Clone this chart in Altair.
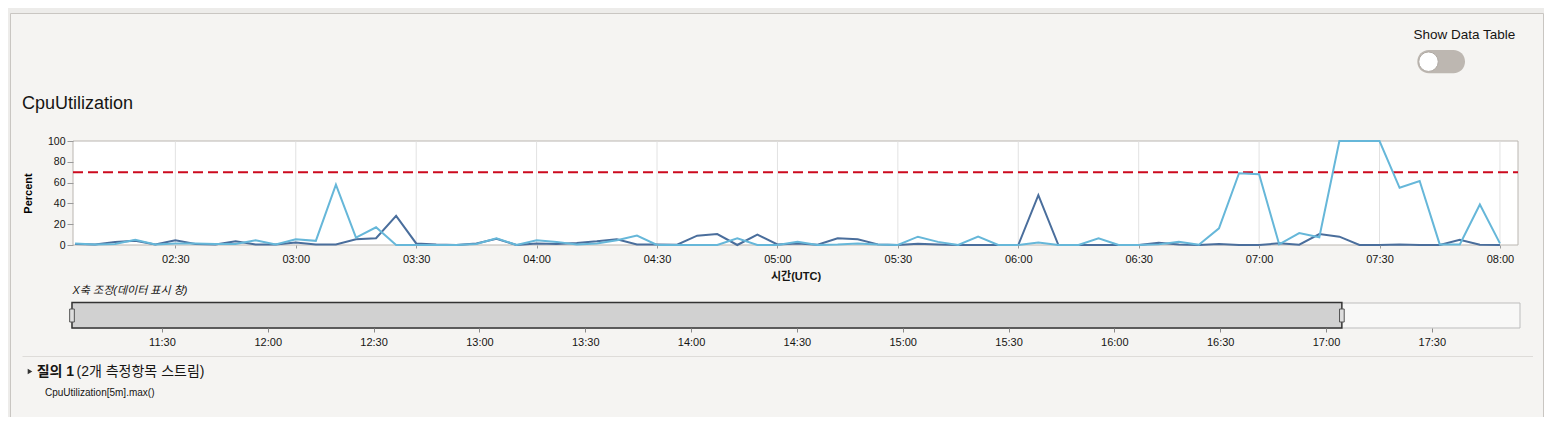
import altair as alt
import pandas as pd

W, H = 1536, 409
FONT = "Liberation Sans, Noto Sans CJK KR, sans-serif"
TXT = "#161513"
DARK = "#4a6e9c"
LIGHT = "#66b7d9"

# ---------------- data ----------------
times = pd.date_range("2024-01-01 02:05", periods=72, freq="5min")
dark_vals = [1, 0.5, 3, 4, 0.5, 4.5, 1, 0.5, 3.5, 0.5,
             0.5, 2.5, 0.5, 0.5, 5.5, 6.5, 28, 1.5, 0.5, 0,
             1.5, 6, 0, 1.5, 1, 2, 3.5, 5.5, 0.5, 0.5,
             0.3, 9, 10.5, 0, 10, 0.5, 1.5, 0.3, 6.5, 5.5,
             0.6, 0, 1.3, 0.5, 0, 0, 0, 0, 48, 0,
             0, 0, 0, 0, 2.2, 0.5, 0, 1, 0, 0,
             1.6, 0.3, 10.5, 8, 0, 0, 0.6, 0, 0, 5,
             0.3, 0]
light_vals = [1.5, 0.5, 1, 5, 0.5, 1.5, 1.5, 1, 1, 4.5,
              0.5, 5.5, 4, 58, 7, 17, 0, 0, 0, 0,
              1, 6.5, 0, 4.5, 3, 0.5, 1.5, 4.5, 9, 0,
              0, 0, 0, 6.5, 0, 0, 3, 0, 0.5, 1.5,
              0.5, 0, 8, 3, 0, 8, 0, 0, 2.5, 0,
              0, 6.5, 0, 0, 0.6, 3, 0.3, 16, 69, 68,
              0.6, 11.5, 7.5, 100, 100, 100, 55, 61.5, 0.6, 0.6,
              39, 1.6]
threshold = [70]
y_ticks = [0, 20, 40, 60, 80, 100]
main_ticks = ["02:30", "03:00", "03:30", "04:00", "04:30", "05:00", "05:30",
              "06:00", "06:30", "07:00", "07:30", "08:00"]
nav_ticks = ["11:30", "12:00", "12:30", "13:00", "13:30", "14:00", "14:30",
             "15:00", "15:30", "16:00", "16:30", "17:00", "17:30"]
main_domain = ["02:04:30", "08:04:30"]
nav_domain = ["11:04:30", "17:55:00"]
nav_selection = ["11:04:30", "17:04:30"]


def iso(hms):
    if hms.count(":") == 1:
        hms += ":00"
    return "2024-01-01T" + hms + "Z"


def dt(hms):
    parts = [int(p) for p in hms.split(":")]
    while len(parts) < 3:
        parts.append(0)
    return alt.DateTime(year=2024, month=1, date=1, hours=parts[0],
                        minutes=parts[1], seconds=parts[2], utc=True)


main_df = pd.DataFrame({"t": times.strftime("%Y-%m-%dT%H:%M:%SZ"),
                        "dark": dark_vals, "light": light_vals})
grid_df = pd.DataFrame({"g": [iso(s) for s in main_ticks]})
thr_df = pd.DataFrame({"thr": threshold})
nav_df = pd.DataFrame({"s": [iso(nav_domain[0])], "e": [iso(nav_domain[1])]})
sel_df = pd.DataFrame({"s": [iso(nav_selection[0])], "e": [iso(nav_selection[1])]})
handle_df = pd.DataFrame({"h": [iso(s) for s in nav_selection]})
one = pd.DataFrame({"k": [0]})

# ---------------- geometry ----------------
PX0, PX1, PY0, PY1 = 65, 1510, 133, 237
NX0, NX1, NY0, NY1 = 64, 1512, 295, 320

xs_main = alt.Scale(type="utc", domain=[dt(main_domain[0]), dt(main_domain[1])],
                    range=[PX0, PX1])
ys_main = alt.Scale(domain=[0, 100], range=[PY1, PY0], nice=False, zero=False)

x_axis_main = alt.Axis(values=[dt(s) for s in main_ticks], format="%H:%M",
                       orient="bottom", offset=PY1 - H, domain=False, grid=False,
                       tickSize=3, tickColor="#9a9a9a", labelPadding=5,
                       labelFont=FONT, labelFontSize=11, labelColor=TXT,
                       labelFlush=False, labelOverlap=False,
                       title="시간(UTC)", titleFont=FONT, titleFontSize=11,
                       titleFontWeight="bold", titleColor=TXT,
                       titleBaseline="middle", titleY=31.5, zindex=2)
y_axis_main = alt.Axis(values=y_ticks, orient="left", offset=-PX0, domain=False,
                       grid=False, tickSize=6, tickColor="#9a9a9a", labelPadding=2,
                       labelFont=FONT, labelFontSize=10.5, labelColor=TXT,
                       title="Percent", titleFont=FONT, titleFontSize=11,
                       titleFontWeight="bold", titleColor="#000",
                       titleX=-40, titleBaseline="bottom", titleAngle=270, zindex=2)

# ---------------- main chart ----------------
plot_bg = alt.Chart(one).mark_rect(fill="white", stroke="#bab6b1", strokeWidth=1).encode(
    x=alt.value(PX0), x2=alt.value(PX1), y=alt.value(PY0), y2=alt.value(PY1))
grid = alt.Chart(grid_df).mark_rule(color="#e2e2e2", strokeWidth=1).encode(
    x=alt.X("g:T", scale=xs_main, axis=x_axis_main),
    y=alt.value(PY0 + 0.5), y2=alt.value(PY1))
thr = alt.Chart(thr_df).mark_rule(color="#cc0a1e", strokeWidth=2, strokeDash=[10, 5]).encode(
    y=alt.Y("thr:Q", scale=ys_main, axis=y_axis_main),
    x=alt.value(PX0), x2=alt.value(PX1))
dark_line = alt.Chart(main_df).mark_line(color=DARK, strokeWidth=2).encode(
    x=alt.X("t:T", scale=xs_main, axis=x_axis_main),
    y=alt.Y("dark:Q", scale=ys_main, axis=y_axis_main))
light_line = alt.Chart(main_df).mark_line(color=LIGHT, strokeWidth=2).encode(
    x=alt.X("t:T", scale=xs_main, axis=x_axis_main),
    y=alt.Y("light:Q", scale=ys_main, axis=y_axis_main))
main = alt.layer(plot_bg, grid, thr, dark_line, light_line)

# ---------------- navigator ----------------
xs_nav = alt.Scale(type="utc", domain=[dt(nav_domain[0]), dt(nav_domain[1])],
                   range=[NX0, NX1])
nav_axis = alt.Axis(values=[dt(s) for s in nav_ticks], format="%H:%M", orient="bottom",
                    offset=NY1 - H, domain=False, grid=False, tickSize=4,
                    tickColor="#8a8a8a", labelPadding=4, labelFont=FONT,
                    labelFontSize=11, labelColor=TXT, labelFlush=False,
                    labelOverlap=False, title=None, zindex=2)
nav_outer = alt.Chart(nav_df).mark_rect(fill="#f8f8f7", stroke="#bdbdbd", strokeWidth=1).encode(
    x=alt.X("s:T", scale=xs_nav, axis=nav_axis), x2="e",
    y=alt.value(NY0), y2=alt.value(NY1))
nav_sel = alt.Chart(sel_df).mark_rect(fill="#d1d1d1", stroke="#333333", strokeWidth=1.5).encode(
    x=alt.X("s:T", scale=xs_nav, axis=nav_axis), x2="e",
    y=alt.value(NY0 - 0.5), y2=alt.value(NY1))
handles = alt.Chart(handle_df).mark_point(
    shape="M-0.36,-1L0.36,-1L0.36,1L-0.36,1Z", size=169, filled=True,
    fill="#dedede", stroke="#555555", strokeWidth=1, opacity=1).encode(
    x=alt.X("h:T", scale=xs_nav, axis=nav_axis), y=alt.value((NY0 + NY1) / 2))
nav = alt.layer(nav_outer, nav_sel, handles)

# ---------------- decorations ----------------
panel = alt.Chart(one).mark_rect(fill="#f5f4f2", stroke="#c9c6c2", strokeWidth=1).encode(
    x=alt.value(2.5), x2=alt.value(W - 0.5), y=alt.value(5.5), y2=alt.value(H + 20))
title = alt.Chart(one).mark_text(text="CpuUtilization", font=FONT, fontSize=18, color=TXT,
                                 align="left", baseline="alphabetic").encode(
    x=alt.value(14), y=alt.value(101))
show_txt = alt.Chart(one).mark_text(text="Show Data Table", font=FONT, fontSize=13.5, color=TXT,
                                    align="center", baseline="alphabetic").encode(
    x=alt.value(1456.3), y=alt.value(31))
pill = alt.Chart(one).mark_rect(fill="#bdb7b1", cornerRadius=11.5).encode(
    x=alt.value(1409.3), x2=alt.value(1457), y=alt.value(42), y2=alt.value(65.3))
knob = alt.Chart(one).mark_point(shape="circle", filled=True, fill="white", stroke="#b0aaa4",
                                 strokeWidth=1, size=380, opacity=1).encode(
    x=alt.value(1420.5), y=alt.value(53.7))
nav_label = alt.Chart(one).mark_text(text="X축 조정(데이터 표시 창)", font=FONT, fontSize=11,
                                     fontStyle="italic", color=TXT, align="left",
                                     baseline="middle").encode(
    x=alt.value(64.5), y=alt.value(283))
sep = alt.Chart(one).mark_rule(color="#dedcd9", strokeWidth=1).encode(
    x=alt.value(14.5), x2=alt.value(1525), y=alt.value(348.5))
tri = alt.Chart(one).mark_point(shape="triangle-right", filled=True, size=28, color="#333333",
                                opacity=1).encode(x=alt.value(22), y=alt.value(363.5))
q1 = alt.Chart(one).mark_text(text="질의 1", font=FONT, fontSize=14, fontWeight="bold", color=TXT,
                              align="left", baseline="middle").encode(
    x=alt.value(28.7), y=alt.value(363.7))
q2 = alt.Chart(one).mark_text(text="(2개 측정항목 스트림)", font=FONT, fontSize=14, color=TXT,
                              align="left", baseline="middle").encode(
    x=alt.value(68.5), y=alt.value(363.7))
metric = alt.Chart(one).mark_text(text="CpuUtilization[5m].max()", font=FONT, fontSize=10,
                                  color=TXT, align="left", baseline="middle").encode(
    x=alt.value(37), y=alt.value(384.5))

chart = alt.layer(
    panel, title, show_txt, pill, knob, main, nav_label, nav, sep, tri, q1, q2, metric
).resolve_scale(x="independent", y="independent").properties(
    width=W, height=H, autosize=alt.AutoSizeParams(type="none"), padding=0,
    background="#edecea"
).configure_view(strokeWidth=0)

chart.save("out.html", embed_options={"renderer": "svg", "actions": False})
